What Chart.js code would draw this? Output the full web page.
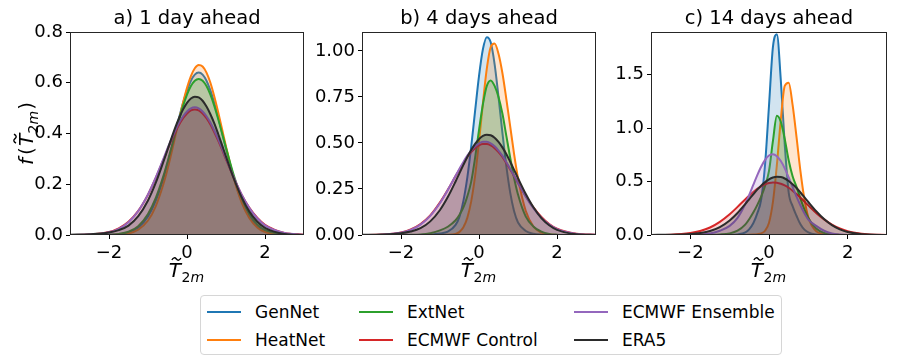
<!DOCTYPE html>
<html>
<head>
<meta charset="utf-8">
<script src="https://cdn.jsdelivr.net/npm/chart.js@4.4.1/dist/chart.umd.min.js"></script>
<style>
  body { margin: 0; background: #fff; width: 897px; height: 359px; position: relative; overflow: hidden; font-family: 'DejaVu Sans', sans-serif; }
  canvas { position: absolute; top: 0; }
  #legend { position: absolute; left: 200px; top: 295px; width: 582px; height: 60px; border: 1px solid #d6d6d6; border-radius: 4px; box-sizing: border-box; font-size: 17px; color: #000; }
  .item { position: absolute; height: 22px; line-height: 22px; white-space: nowrap; }
  .item i { position: absolute; top: 10px; left: 0; width: 34px; height: 2px; }
  .item span { position: absolute; left: 48px; top: 0; }
</style>
</head>
<body>
<canvas id="pa" width="310" height="290" style="left:0px"></canvas>
<canvas id="pb" width="290" height="290" style="left:310px"></canvas>
<canvas id="pc" width="297" height="290" style="left:600px"></canvas>
<div id="legend"></div>
<script>
// x positions shared by every curve
const grid = [-3, -2.5, -2, -1.75, -1.5, -1.25, -1, -0.8, -0.6, -0.5, -0.4, -0.3, -0.2, -0.1,
  0, 0.1, 0.2, 0.3, 0.4, 0.5, 0.6, 0.7, 0.8, 0.9, 1.0, 1.2, 1.4, 1.6, 1.8, 2, 2.5, 3];

const names = ['GenNet', 'HeatNet', 'ExtNet', 'ECMWF Control', 'ECMWF Ensemble', 'ERA5'];
const colors = ['#1f77b4', '#ff7f0e', '#2ca02c', '#d62728', '#9467bd', '#2b2b2b'];
const fills = ['rgba(31,119,180,0.2)', 'rgba(255,127,14,0.2)', 'rgba(44,160,44,0.2)',
  'rgba(214,39,40,0.2)', 'rgba(148,103,189,0.2)', 'rgba(0,0,0,0.2)'];

const xTicks = [-2, 0, 2];
const yTicksA = [0, 0.2, 0.4, 0.6, 0.8];
const yTicksB = [0, 0.25, 0.5, 0.75, 1.0];
const yTicksC = [0, 0.5, 1.0, 1.5];

// ERA5 (same reference density in every panel)
const era5 = [0.001, 0.003, 0.010, 0.019, 0.037, 0.074, 0.136, 0.206, 0.291, 0.336, 0.381, 0.424, 0.462, 0.495,
  0.521, 0.538, 0.545, 0.542, 0.529, 0.506, 0.476, 0.440, 0.398, 0.354, 0.309, 0.223, 0.149, 0.092, 0.053, 0.028, 0.004, 0.0004];

// a) 1 day ahead
const genA = [0, 0, 0.0007, 0.0028, 0.0098, 0.029, 0.073, 0.135, 0.225, 0.280, 0.340, 0.402, 0.464, 0.521,
  0.570, 0.608, 0.632, 0.640, 0.632, 0.608, 0.570, 0.521, 0.464, 0.402, 0.340, 0.225, 0.135, 0.073, 0.035, 0.0155, 0.0013, 0];
const heatA = [0, 0, 0.0003, 0.0016, 0.006, 0.021, 0.057, 0.114, 0.203, 0.259, 0.322, 0.389, 0.457, 0.522,
  0.580, 0.626, 0.657, 0.670, 0.664, 0.640, 0.600, 0.546, 0.484, 0.417, 0.349, 0.224, 0.129, 0.066, 0.030, 0.012, 0.001, 0];
const extA = [0, 0.0001, 0.0012, 0.0042, 0.013, 0.035, 0.083, 0.146, 0.235, 0.288, 0.344, 0.401, 0.457, 0.509,
  0.553, 0.587, 0.608, 0.615, 0.608, 0.587, 0.553, 0.509, 0.457, 0.401, 0.344, 0.235, 0.146, 0.083, 0.042, 0.020, 0.002, 0];
const ctrlA = [0.0002, 0.0018, 0.0115, 0.026, 0.052, 0.095, 0.159, 0.225, 0.298, 0.336, 0.372, 0.405, 0.435, 0.460,
  0.479, 0.491, 0.495, 0.491, 0.479, 0.460, 0.435, 0.405, 0.372, 0.336, 0.298, 0.225, 0.159, 0.107, 0.068, 0.040, 0.008, 0.0012];
const ensA = [0.0001, 0.0015, 0.0107, 0.0245, 0.0506, 0.0946, 0.160, 0.227, 0.302, 0.341, 0.378, 0.412, 0.443, 0.468,
  0.487, 0.499, 0.503, 0.499, 0.487, 0.468, 0.443, 0.412, 0.378, 0.341, 0.302, 0.227, 0.160, 0.106, 0.066, 0.038, 0.0075, 0.001];

// b) 4 days ahead
const genB = [0, 0, 0, 0, 0.0005, 0.002, 0.008, 0.018, 0.055, 0.100, 0.185, 0.312, 0.480, 0.674,
  0.863, 1.009, 1.075, 1.047, 0.929, 0.752, 0.556, 0.375, 0.230, 0.129, 0.068, 0.022, 0.007, 0.002, 0.0005, 0, 0, 0];
const heatB = [0, 0, 0, 0, 0, 0, 0.0002, 0.0008, 0.006, 0.017, 0.042, 0.093, 0.183, 0.321,
  0.507, 0.716, 0.904, 1.021, 1.040, 0.985, 0.880, 0.740, 0.590, 0.440, 0.310, 0.130, 0.045, 0.013, 0.003, 0.0005, 0, 0];
const extB = [0, 0, 0.0005, 0.001, 0.003, 0.010, 0.025, 0.045, 0.080, 0.110, 0.150, 0.210, 0.290, 0.420,
  0.570, 0.710, 0.810, 0.840, 0.810, 0.750, 0.660, 0.540, 0.420, 0.310, 0.220, 0.100, 0.045, 0.018, 0.006, 0.002, 0, 0];
const ctrlB = [0.0003, 0.0022, 0.0136, 0.030, 0.0598, 0.1065, 0.1775, 0.246, 0.320, 0.356, 0.391, 0.424, 0.450, 0.472,
  0.487, 0.494, 0.494, 0.487, 0.472, 0.450, 0.424, 0.391, 0.356, 0.320, 0.283, 0.212, 0.149, 0.098, 0.0598, 0.034, 0.0068, 0.0009];
const ensB = [0.0002, 0.0018, 0.012, 0.0276, 0.0565, 0.104, 0.174, 0.245, 0.322, 0.360, 0.397, 0.431, 0.459, 0.482,
  0.498, 0.506, 0.506, 0.498, 0.482, 0.459, 0.431, 0.397, 0.360, 0.322, 0.283, 0.208, 0.144, 0.093, 0.0565, 0.032, 0.0059, 0.0007];

// c) 14 days ahead
const genC = [0, 0, 0, 0, 0, 0, 0.001, 0.005, 0.025, 0.055, 0.110, 0.200, 0.330, 0.660,
  1.210, 1.760, 1.880, 1.450, 0.850, 0.400, 0.270, 0.180, 0.100, 0.050, 0.025, 0.005, 0.001, 0, 0, 0, 0, 0];
const heatC = [0, 0, 0, 0, 0, 0, 0, 0, 0.001, 0.002, 0.004, 0.008, 0.015, 0.040,
  0.114, 0.309, 0.655, 1.080, 1.395, 1.425, 1.217, 0.915, 0.596, 0.337, 0.165, 0.035, 0.010, 0.003, 0.001, 0, 0, 0];
const extC = [0, 0, 0, 0.0005, 0.002, 0.005, 0.015, 0.040, 0.100, 0.150, 0.210, 0.280, 0.360, 0.460,
  0.600, 0.880, 1.115, 1.060, 0.900, 0.700, 0.550, 0.450, 0.340, 0.240, 0.160, 0.060, 0.020, 0.005, 0.001, 0, 0, 0];
const ctrlC = [0.0004, 0.003, 0.018, 0.037, 0.070, 0.123, 0.194, 0.263, 0.335, 0.370, 0.403, 0.432, 0.456, 0.475,
  0.487, 0.492, 0.490, 0.480, 0.464, 0.442, 0.415, 0.383, 0.349, 0.313, 0.277, 0.207, 0.146, 0.097, 0.061, 0.036, 0.0074, 0.001];
const ensC = [0, 0, 0.001, 0.005, 0.015, 0.040, 0.085, 0.160, 0.292, 0.377, 0.468, 0.558, 0.639, 0.703,
  0.744, 0.756, 0.738, 0.692, 0.624, 0.540, 0.450, 0.359, 0.276, 0.204, 0.144, 0.085, 0.040, 0.015, 0.005, 0.001, 0, 0];

Chart.defaults.font.family = "'DejaVu Sans', sans-serif";
Chart.defaults.color = '#000';

// draws T~ with subscript 2m, optionally wrapped as f( ... )
function drawMath(ctx, cx, y, withF) {
  const big = 20, small = 14;
  const runs = [];
  if (withF) {
    runs.push({ t: 'f', font: 'italic ' + big + "px 'DejaVu Sans'", dy: 0, gap: 3 });
    runs.push({ t: '(', font: big + "px 'DejaVu Sans'", dy: 0, gap: 1 });
  }
  runs.push({ t: 'T', font: 'italic ' + big + "px 'DejaVu Sans'", dy: 0, tilde: true, gap: 0.5 });
  runs.push({ t: '2', font: small + "px 'DejaVu Sans'", dy: 4.5 });
  runs.push({ t: 'm', font: 'italic ' + small + "px 'DejaVu Sans'", dy: 4.5, gap: 1 });
  if (withF) runs.push({ t: ')', font: big + "px 'DejaVu Sans'", dy: 0 });

  let total = 0;
  runs.forEach(r => { ctx.font = r.font; r.w = ctx.measureText(r.t).width + (r.gap || 0); total += r.w; });
  let x = cx - total / 2;
  ctx.textAlign = 'left';
  ctx.textBaseline = 'alphabetic';
  runs.forEach(r => {
    ctx.font = r.font;
    ctx.fillText(r.t, x, y + r.dy);
    if (r.tilde) {
      const x0 = x + 3, w = 9, yb = y - 18;
      ctx.beginPath();
      ctx.moveTo(x0, yb + 1);
      ctx.quadraticCurveTo(x0 + w / 4, yb - 2.8, x0 + w / 2, yb);
      ctx.quadraticCurveTo(x0 + 3 * w / 4, yb + 2.8, x0 + w, yb - 1);
      ctx.lineWidth = 1.4;
      ctx.strokeStyle = '#000';
      ctx.stroke();
    }
    x += r.w;
  });
}

const decor = {
  id: 'decor',
  afterDraw(chart, args, opts) {
    const { ctx, chartArea: a } = chart;
    ctx.save();
    ctx.strokeStyle = '#262626';
    ctx.lineWidth = 1;
    ctx.strokeRect(Math.round(a.left) + 0.5, Math.round(a.top) + 0.5,
      Math.round(a.right - a.left) - 1, Math.round(a.bottom - a.top) - 1);
    ctx.fillStyle = '#000';
    ctx.font = "19.5px 'DejaVu Sans'";
    ctx.textAlign = 'center';
    ctx.textBaseline = 'alphabetic';
    ctx.fillText(opts.title, (a.left + a.right) / 2, 24);
    drawMath(ctx, (a.left + a.right) / 2, 277, false);
    if (opts.yTitle) {
      ctx.translate(33, (a.top + a.bottom) / 2);
      ctx.rotate(-Math.PI / 2);
      drawMath(ctx, 0, 0, true);
    }
    ctx.restore();
  }
};

function fmtX(v) {
  return v < 0 ? '\u2212' + Math.abs(v) : String(v);
}

function makePanel(id, title, sets, yMax, yTicks, yDigits, yWidth, padRight, withYTitle) {
  new Chart(document.getElementById(id), {
    type: 'line',
    data: {
      datasets: sets.map((ys, i) => ({
        label: names[i],
        data: grid.map((x, k) => ({ x: x, y: ys[k] })),
        borderColor: colors[i],
        backgroundColor: fills[i],
        borderWidth: 2,
        pointRadius: 0,
        fill: 'origin',
        cubicInterpolationMode: 'monotone',
        order: sets.length - i
      }))
    },
    options: {
      responsive: false,
      animation: false,
      events: [],
      layout: { padding: { left: 0, right: padRight, top: 32, bottom: 0 } },
      plugins: {
        legend: { display: false },
        tooltip: { enabled: false },
        decor: { title: title, yTitle: withYTitle }
      },
      scales: {
        x: {
          type: 'linear', min: -3, max: 3,
          afterBuildTicks: s => { s.ticks = xTicks.map(v => ({ value: v })); },
          afterFit: s => { s.height = 55; },
          border: { display: false },
          grid: { drawOnChartArea: false, tickLength: 4, color: '#000' },
          ticks: { padding: 4, maxRotation: 0, font: { size: 18 }, callback: v => fmtX(v) }
        },
        y: {
          type: 'linear', min: 0, max: yMax,
          afterBuildTicks: s => { s.ticks = yTicks.map(v => ({ value: v })); },
          afterFit: s => { s.width = yWidth; },
          border: { display: false },
          grid: { drawOnChartArea: false, tickLength: 4, color: '#000' },
          ticks: { padding: 3, font: { size: 18 }, callback: v => v.toFixed(yDigits) }
        }
      }
    },
    plugins: [decor]
  });
}

makePanel('pa', 'a) 1 day ahead', [genA, heatA, extA, ctrlA, ensA, era5], 0.8, yTicksA, 1, 70, 6, true);
makePanel('pb', 'b) 4 days ahead', [genB, heatB, extB, ctrlB, ensB, era5], 1.103, yTicksB, 2, 52, 4, false);
makePanel('pc', 'c) 14 days ahead', [genC, heatC, extC, ctrlC, ensC, era5], 1.9, yTicksC, 1, 51, 10, false);

// legend, three columns filled top to bottom
const legendCols = [6, 158, 373];
const legendRows = [5, 33];
const legend = document.getElementById('legend');
names.forEach((n, i) => {
  const d = document.createElement('div');
  d.className = 'item';
  d.style.left = legendCols[Math.floor(i / 2)] + 'px';
  d.style.top = legendRows[i % 2] + 'px';
  d.innerHTML = '<i style="background:' + colors[i] + '"></i><span>' + n + '</span>';
  legend.appendChild(d);
});
</script>
</body>
</html>
